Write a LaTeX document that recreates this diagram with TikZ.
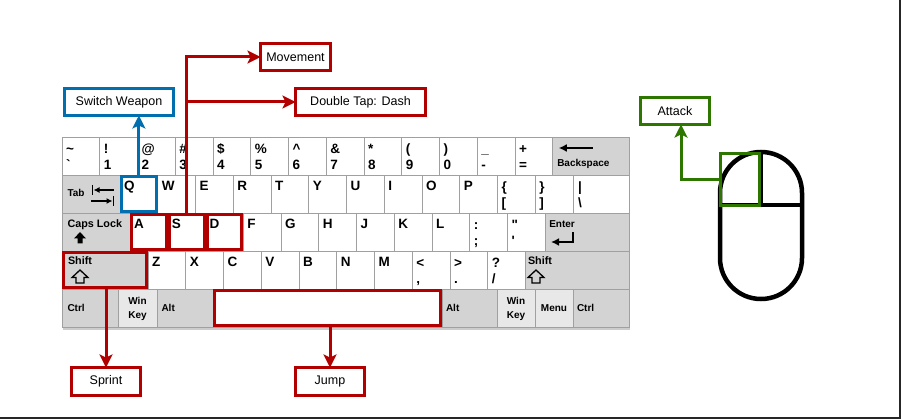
\documentclass[tikz,border=0pt]{standalone}
\usepackage{fontspec}
\setmainfont{Liberation Sans}[Ligatures=TeXOff]
\usetikzlibrary{arrows.meta,calc}
\definecolor{cred}{HTML}{B20000}
\definecolor{cblue}{HTML}{006EAF}
\definecolor{cgreen}{HTML}{2D7600}
\definecolor{kgray}{HTML}{D3D3D3}
\definecolor{klight}{HTML}{E8E8E8}
\definecolor{kline}{HTML}{A0A0A0}
\newcommand\kw{37.75}
\tikzset{
 key/.style={draw=kline, line width=0.8pt, fill=white, inner sep=0pt, outer sep=0pt, minimum height=38pt, anchor=north west},
 gk/.style={fill=kgray},
 lk/.style={fill=klight},
 klab/.style={inner sep=0pt, outer sep=0pt, font=\fontsize{13.5}{14}\selectfont\bfseries, anchor=base west},
 ksm/.style={inner sep=0pt, outer sep=0pt, font=\fontsize{10}{11}\selectfont\bfseries, anchor=base west},
 hl/.style={draw=#1, line width=3pt, inner sep=0pt, outer sep=0pt},
 note/.style={draw=#1, line width=3pt, fill=white, text=black, inner sep=0pt, outer sep=0pt, minimum height=27pt, font=\fontsize{12.5}{14}\selectfont},
 link/.style={color=#1, line width=3pt, -{Stealth[length=13pt,width=13pt,inset=3pt]}},
 glyph/.style={line width=1.6pt},
}
\newcommand\kone[4]{%
 \node[key,minimum width=\kw pt] (#1) at (#2,#3) {};
 \node[klab] (#1t) at ($(#1.north west)+(4,15.5)$) {#4};}
\newcommand\ktwo[5]{%
 \node[key,minimum width=\kw pt] (#1) at (#2,#3) {};
 \node[klab] (#1a) at ($(#1.north west)+(4,16.5)$) {#4};
 \node[klab] (#1b) at ($(#1.north west)+(4,32.5)$) {#5};}
\begin{document}
\begin{tikzpicture}[x=1pt,y=-1pt]
\useasboundingbox (0,0) rectangle (901,419);
\fill[white] (0,0) rectangle (901,419);
\fill[black!85] (0,416.8) rectangle (901,419);
\fill[black!85] (899.3,0) rectangle (901,419);
% keyboard shadow
\fill[black!20] (63,326) rectangle (630,329.5);
% row 1
\ktwo{k0}{62}{137}{\symbol{126}}{\symbol{96}}
\ktwo{k1}{62+\kw}{137}{!}{1}
\ktwo{k2}{62+2*\kw}{137}{@}{2}
\ktwo{k3}{62+3*\kw}{137}{\#}{3}
\ktwo{k4}{62+4*\kw}{137}{\$}{4}
\ktwo{k5}{62+5*\kw}{137}{\%}{5}
\ktwo{k6}{62+6*\kw}{137}{\symbol{94}}{6}
\ktwo{k7}{62+7*\kw}{137}{\&}{7}
\ktwo{k8}{62+8*\kw}{137}{*}{8}
\ktwo{k9}{62+9*\kw}{137}{(}{9}
\ktwo{k10}{62+10*\kw}{137}{)}{0}
\ktwo{k11}{62+11*\kw}{137}{\symbol{95}}{-}
\ktwo{k12}{62+12*\kw}{137}{+}{=}
\node[key,gk,minimum width=76.25pt] (kbs) at (62+13*\kw,137) {};
\draw[line width=2pt,-{Latex[length=8pt,width=8pt]}] ($(kbs.north west)+(40,11)$) -- ($(kbs.north west)+(6,11)$);
\node[ksm] (kbst) at ($(kbs.north west)+(4.5,30)$) {Backspace};
% row 2
\node[key,gk,minimum width=58pt] (ktab) at (62,175) {};
\node[ksm] (ktabt) at ($(ktab.north west)+(5.5,22)$) {Tab};
\draw[glyph,-{Latex[length=6pt,width=6pt]}] (114,190) -- (93.5,190);
\draw[glyph] (92.5,185) -- (92.5,195);
\draw[glyph,-{Latex[length=6pt,width=6pt]}] (91,201) -- (112.5,201);
\draw[glyph] (113.5,196) -- (113.5,206);
\kone{kQ}{120}{175}{Q}
\kone{kW}{120+\kw}{175}{W}
\kone{kE}{120+2*\kw}{175}{E}
\kone{kR}{120+3*\kw}{175}{R}
\kone{kT}{120+4*\kw}{175}{T}
\kone{kY}{120+5*\kw}{175}{Y}
\kone{kU}{120+6*\kw}{175}{U}
\kone{kI}{120+7*\kw}{175}{I}
\kone{kO}{120+8*\kw}{175}{O}
\kone{kP}{120+9*\kw}{175}{P}
\ktwo{klb}{120+10*\kw}{175}{\{}{[}
\ktwo{krb}{120+11*\kw}{175}{\}}{]}
\node[key,minimum width=56pt] (kbsl) at (120+12*\kw,175) {};
\node[klab] (kbsla) at ($(kbsl.north west)+(5,16.5)$) {\symbol{124}};
\node[klab] (kbslb) at ($(kbsl.north west)+(5,32.5)$) {\symbol{92}};
% row 3
\node[key,gk,minimum width=68pt] (kcaps) at (62,213) {};
\node[ksm,font=\fontsize{10.8}{12}\selectfont\bfseries] (kcapst) at ($(kcaps.north west)+(5.5,15)$) {Caps Lock};
\fill (80,232) -- (86,238.5) -- (82.5,238.5) -- (82.5,243.5) -- (77.5,243.5) -- (77.5,238.5) -- (74,238.5) -- cycle;
\kone{kA}{130}{213}{A}
\kone{kS}{130+\kw}{213}{S}
\kone{kD}{130+2*\kw}{213}{D}
\kone{kF}{130+3*\kw}{213}{F}
\kone{kG}{130+4*\kw}{213}{G}
\kone{kH}{130+5*\kw}{213}{H}
\kone{kJ}{130+6*\kw}{213}{J}
\kone{kK}{130+7*\kw}{213}{K}
\kone{kL}{130+8*\kw}{213}{L}
\ktwo{kcol}{130+9*\kw}{213}{:}{;}
\ktwo{kquo}{130+10*\kw}{213}{\symbol{34}}{\symbol{39}}
\node[key,gk,minimum width=83.75pt] (kent) at (130+11*\kw,213) {};
\node[ksm] (kentt) at ($(kent.north west)+(4,15)$) {Enter};
\draw[line width=2.2pt,-{Latex[length=8pt,width=8pt]}] (573,232.5) -- (573,242) -- (551,242);
% row 4
\node[key,gk,minimum width=86pt] (kshl) at (62,251) {};
\node[ksm,font=\fontsize{10.8}{12}\selectfont\bfseries] (kshlt) at ($(kshl.north west)+(6,14)$) {Shift};
\draw[line width=1.3pt] (80,270) -- (88,277.5) -- (84,277.5) -- (84,283) -- (76,283) -- (76,277.5) -- (72,277.5) -- cycle;
\kone{kZ}{148}{251}{Z}
\kone{kX}{148+\kw}{251}{X}
\kone{kC}{148+2*\kw}{251}{C}
\kone{kV}{148+3*\kw}{251}{V}
\kone{kB}{148+4*\kw}{251}{B}
\kone{kN}{148+5*\kw}{251}{N}
\kone{kM}{148+6*\kw}{251}{M}
\ktwo{klt}{148+7*\kw}{251}{<}{,}
\ktwo{kgt}{148+8*\kw}{251}{>}{.}
\ktwo{kqm}{148+9*\kw}{251}{?}{/}
\node[key,gk,minimum width=103.5pt] (kshr) at (148+10*\kw,251) {};
\node[ksm,font=\fontsize{10.8}{12}\selectfont\bfseries] (kshrt) at ($(kshr.north west)+(2.5,14)$) {Shift};
\draw[line width=1.3pt] (536,270) -- (544,277.5) -- (540,277.5) -- (540,283) -- (532,283) -- (532,277.5) -- (528,277.5) -- cycle;
% row 5
\node[key,gk,minimum width=56pt] (kctl) at (62,289) {};
\node[ksm] (kctlt) at ($(kctl.north west)+(5.5,23)$) {Ctrl};
\node[key,lk,minimum width=39pt] (kwl) at (118,289) {};
\node[ksm,anchor=base] (kwla) at ($(kwl.north)+(0,16)$) {Win};
\node[ksm,anchor=base] (kwlb) at ($(kwl.north)+(0,29)$) {Key};
\node[key,gk,minimum width=56pt] (kaltl) at (157,289) {};
\node[ksm] (kaltlt) at ($(kaltl.north west)+(4.5,23)$) {Alt};
\node[key,minimum width=229pt] (kspace) at (213,289) {};
\node[key,gk,minimum width=55pt] (kaltr) at (442,289) {};
\node[ksm] (kaltrt) at ($(kaltr.north west)+(4,23)$) {Alt};
\node[key,lk,minimum width=38pt] (kwr) at (497,289) {};
\node[ksm,anchor=base] (kwra) at ($(kwr.north)+(0,16)$) {Win};
\node[ksm,anchor=base] (kwrb) at ($(kwr.north)+(0,29)$) {Key};
\node[key,lk,minimum width=38pt] (kmenu) at (535,289) {};
\node[ksm,anchor=base] (kmenut) at ($(kmenu.north)+(0,23)$) {Menu};
\node[key,gk,minimum width=56pt] (kctr) at (573,289) {};
\node[ksm] (kctrt) at ($(kctr.north west)+(4,23)$) {Ctrl};
% highlights
\node[hl=cblue,minimum width=34.75pt,minimum height=35pt] (hQ) at (kQ.center) {};
\node[hl=cred,minimum width=34.75pt,minimum height=35pt] (hA) at (kA.center) {};
\node[hl=cred,minimum width=34.75pt,minimum height=35pt] (hS) at (kS.center) {};
\node[hl=cred,minimum width=34.75pt,minimum height=35pt] (hD) at (kD.center) {};
\node[hl=cred,minimum width=83pt,minimum height=35pt] (hShift) at (kshl.center) {};
\node[hl=cred,minimum width=226pt,minimum height=35pt] (hSpace) at (kspace.center) {};
% mouse
\draw[line width=4.5pt,rounded corners=40.9pt] (720,152) rectangle (802,299);
\draw[line width=4pt] (720,205) -- (802,205);
\draw[line width=4pt] (761,152) -- (761,205);
\node[hl=cgreen,minimum width=39pt,minimum height=52pt] (hL) at (740,179.5) {};
% notes
\node[note=cred,minimum width=70pt] (mov) at (295.5,57) {Movement};
\node[note=cred,minimum width=130pt] (dash) at (360.5,102) {Double Tap: Dash};
\node[note=cblue,minimum width=109pt] (sw) at (119,102) {Switch Weapon};
\node[note=cgreen,minimum width=69pt] (atk) at (675,111) {Attack};
\node[note=cred,minimum width=69pt,minimum height=28pt] (sprint) at (106,381.5) {Sprint};
\node[note=cred,minimum width=69pt,minimum height=28pt] (jump) at (330,381.5) {Jump};
% connectors
\draw[link=cblue] (hQ.north) -- (hQ.north |- sw.south);
\draw[link=cred] (hS.north) |- (mov.west);
\draw[link=cred] (hS.north) |- (dash.west);
\draw[link=cred] (hShift.south -| sprint.north) -- (sprint.north);
\draw[link=cred] (hSpace.south -| jump.north) -- (jump.north);
\draw[link=cgreen] (hL.west) -| ($(atk.south)+(6,0)$);
\end{tikzpicture}
\end{document}
